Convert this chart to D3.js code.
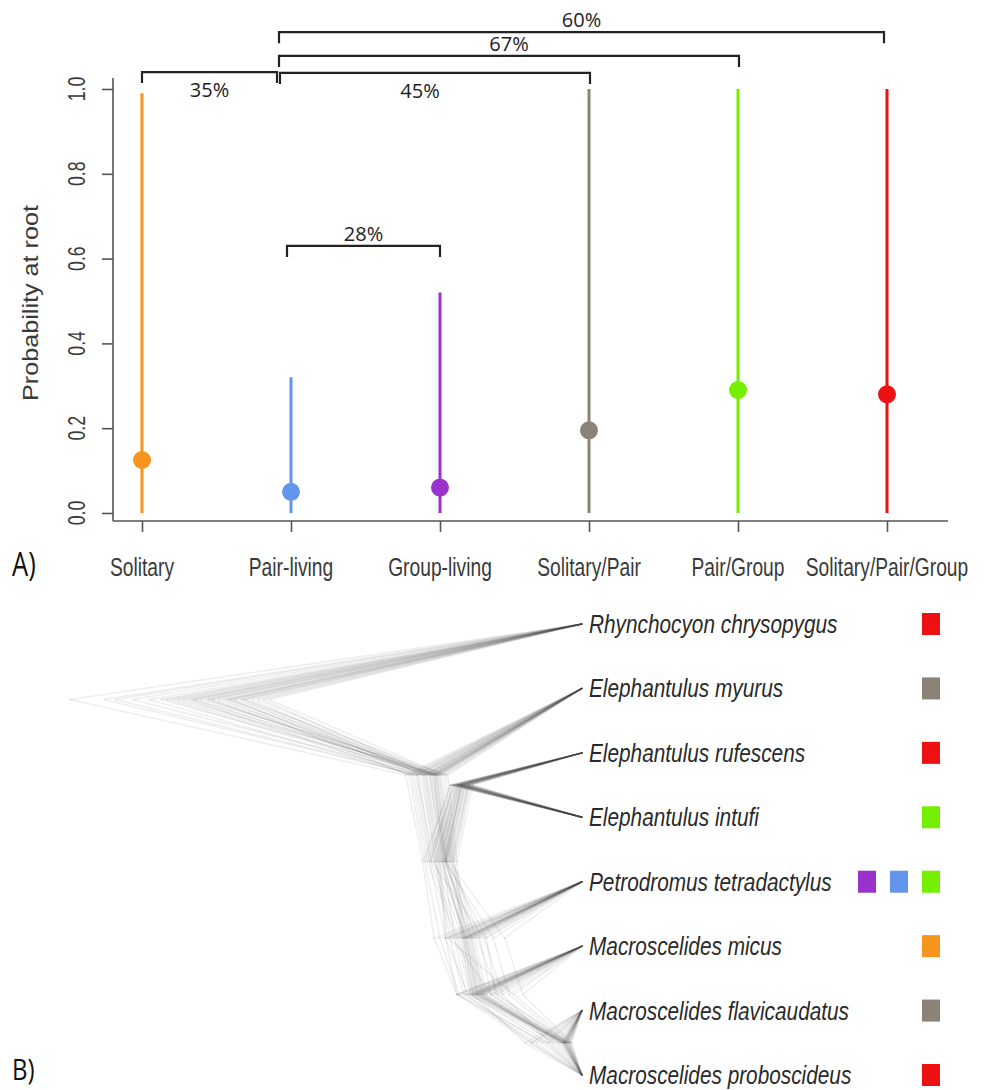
<!DOCTYPE html>
<html>
<head>
<meta charset="utf-8">
<script src="https://cdn.jsdelivr.net/npm/d3@7"></script>
<style>
  html, body { margin: 0; padding: 0; background: #fff; }
  svg { display: block; }
</style>
</head>
<body>
<svg id="chart" width="990" height="1090"></svg>
<script>
// ---------------- DATA ----------------
const categories = ["Solitary", "Pair-living", "Group-living", "Solitary/Pair", "Pair/Group", "Solitary/Pair/Group"];
const lowerValues = [0, 0, 0, 0, 0, 0];
const upperValues = [0.99, 0.32, 0.52, 1.0, 1.0, 1.0];
const pointValues = [0.125, 0.05, 0.06, 0.195, 0.29, 0.28];
const categoryColors = ["#F7941D", "#6495ED", "#9932CC", "#8B8378", "#76EE00", "#EE1111"];
const yTicks = [0, 0.2, 0.4, 0.6, 0.8, 1.0];
const yTickLabels = ["0.0", "0.2", "0.4", "0.6", "0.8", "1.0"];

const brackets = [
  { from: "Solitary",    to: "Pair-living",         label: "35%", level: 1.040 },
  { from: "Pair-living", to: "Solitary/Pair",       label: "45%", level: 1.038 },
  { from: "Pair-living", to: "Pair/Group",          label: "67%", level: 1.078 },
  { from: "Pair-living", to: "Solitary/Pair/Group", label: "60%", level: 1.134 },
  { from: "Pair-living", to: "Group-living",        label: "28%", level: 0.630 }
];

const species = ["Rhynchocyon chrysopygus", "Elephantulus myurus", "Elephantulus rufescens", "Elephantulus intufi",
                 "Petrodromus tetradactylus", "Macroscelides micus", "Macroscelides flavicaudatus", "Macroscelides proboscideus"];
const speciesStates = [
  ["Solitary/Pair/Group"],
  ["Solitary/Pair"],
  ["Solitary/Pair/Group"],
  ["Pair/Group"],
  ["Group-living", "Pair-living", "Pair/Group"],
  ["Solitary"],
  ["Solitary/Pair"],
  ["Solitary/Pair/Group"]
];

// topology: (R,(myurus,((rufescens,intufi),(Petrodromus,(micus,(flavicaudatus,proboscideus))))))
const topology = { id: "root", children: [
  { tip: 0 },
  { id: "my", children: [
    { tip: 1 },
    { id: "erpm", children: [
      { id: "ri", children: [{ tip: 2 }, { tip: 3 }] },
      { id: "pm", children: [
        { tip: 4 },
        { id: "mic", children: [
          { tip: 5 },
          { id: "fp", children: [{ tip: 6 }, { tip: 7 }] }
        ] }
      ] }
    ] }
  ] }
] };

// node depths (Myr before present) for each sampled tree
const nodeIds = ["root", "my", "erpm", "ri", "pm", "mic", "fp"];
const treeSamples = [
  [45.0, 15.5, 14.0, 11.5, 13.0, 11.0, 4.5],
  [41.0, 14.5, 13.0, 11.0, 10.5, 9.5, 1.6],
  [39.5, 13.8, 12.6, 10.8, 10.2, 9.2, 1.4],
  [38.0, 14.8, 13.4, 11.4, 12.0, 10.0, 2.2],
  [37.0, 13.0, 12.0, 10.6, 9.8, 8.8, 1.2],
  [36.0, 13.4, 12.2, 10.5, 10.4, 9.4, 1.5],
  [35.0, 12.8, 11.8, 10.2, 10.0, 9.0, 1.8],
  [34.5, 15.0, 13.6, 11.2, 11.0, 9.8, 3.0],
  [34.0, 13.2, 12.0, 10.6, 10.1, 9.1, 1.3],
  [33.0, 12.5, 11.5, 10.0, 9.6, 8.6, 1.1],
  [32.5, 13.6, 12.4, 10.9, 10.3, 9.3, 1.6],
  [32.0, 12.9, 11.9, 10.4, 9.9, 8.9, 1.4],
  [31.5, 15.2, 13.8, 11.6, 12.5, 10.8, 4.0],
  [31.0, 13.3, 12.1, 10.7, 9.2, 7.4, 1.2],
  [30.5, 12.6, 11.6, 10.1, 9.7, 8.7, 2.5],
  [30.0, 13.9, 12.7, 11.0, 11.4, 8.0, 1.7],
  [29.5, 13.1, 12.0, 10.5, 7.8, 6.4, 1.3],
  [29.0, 14.0, 12.9, 11.1, 11.6, 10.4, 3.5],
  [28.5, 12.7, 11.7, 10.3, 6.8, 5.2, 0.9],
  [28.0, 13.4, 12.3, 10.8, 10.2, 9.2, 1.5],
  [27.5, 12.2, 11.3, 9.9, 9.4, 8.4, 2.0],
  [36.5, 14.2, 12.8, 10.9, 11.8, 6.0, 1.0],
  [33.5, 11.8, 11.0, 9.6, 10.4, 9.6, 5.0],
  [30.8, 14.4, 13.2, 11.3, 8.6, 7.0, 2.8],
  [35.5, 12.4, 11.4, 10.0, 9.0, 8.0, 1.4],
  [32.8, 13.7, 12.5, 10.7, 12.0, 11.0, 3.2],
  [29.8, 12.0, 11.2, 9.8, 10.6, 9.8, 1.6],
  [42.0, 14.6, 13.3, 11.2, 10.8, 9.6, 1.8],
  [31.2, 13.0, 12.2, 10.6, 11.2, 10.2, 4.4],
  [34.2, 12.8, 11.9, 10.3, 8.4, 7.6, 1.1]
];

// ---------------- STYLE / LAYOUT ----------------
const bracketStyle = {
  "35%": { dxFrom: 0,   dxTo: -14, labelDx: 0,   below: true  },
  "45%": { dxFrom: -11, dxTo: 1,   labelDx: -15, below: true  },
  "67%": { dxFrom: -12, dxTo: 1,   labelDx: 0,   below: false },
  "60%": { dxFrom: -12, dxTo: -3,  labelDx: 0,   below: false },
  "28%": { dxFrom: -4,  dxTo: 0,   labelDx: 0,   below: false }
};

const svg = d3.select("#chart");
const colorOf = d3.scaleOrdinal().domain(categories).range(categoryColors);

// ---------------- PANEL A ----------------
const x = d3.scalePoint().domain(categories).range([142, 887]);
const y = d3.scaleLinear().domain([0, 1]).range([513, 89]);

const axisColor = "#555";
const textColor = "#3a3a3a";
const rFont = "'Liberation Sans', Arial, Helvetica, sans-serif";

// L-shaped frame
svg.append("line").attr("x1", 113).attr("x2", 113).attr("y1", 78).attr("y2", 521)
  .attr("stroke", axisColor).attr("stroke-width", 1.6);
svg.append("line").attr("x1", 113).attr("x2", 948).attr("y1", 521).attr("y2", 521)
  .attr("stroke", axisColor).attr("stroke-width", 1.6);

// y axis ticks via d3 axis
const yAxis = d3.axisLeft(y).tickValues(yTicks).tickSize(11).tickFormat("");
const gy = svg.append("g").attr("transform", "translate(113,0)").call(yAxis);
gy.select(".domain").remove();
gy.selectAll(".tick line").attr("stroke", axisColor).attr("stroke-width", 1.6);

svg.append("g").selectAll("text").data(yTicks).join("text")
  .attr("transform", (d) => `translate(85,${y(d)}) rotate(-90) scale(0.77,1)`)
  .attr("text-anchor", "middle")
  .attr("font-family", rFont).attr("font-size", 23).attr("fill", textColor)
  .text((d, i) => yTickLabels[i]);

svg.append("text")
  .attr("transform", `translate(38,${(y(0) + y(1)) / 2 + 2}) rotate(-90)`)
  .attr("text-anchor", "middle")
  .attr("font-family", rFont).attr("font-size", 22).attr("fill", textColor)
  .attr("textLength", 196).attr("lengthAdjust", "spacingAndGlyphs")
  .text("Probability at root");

// x axis ticks
const xAxis = d3.axisBottom(x).tickSize(11).tickFormat("");
const gx = svg.append("g").attr("transform", "translate(0,521)").call(xAxis);
gx.select(".domain").remove();
gx.selectAll(".tick line").attr("stroke", axisColor).attr("stroke-width", 1.6);

svg.append("g").selectAll("text").data(categories).join("text")
  .attr("transform", (d) => `translate(${x(d)},576) scale(0.74,1)`)
  .attr("text-anchor", "middle")
  .attr("font-family", rFont).attr("font-size", 26).attr("fill", textColor)
  .text((d) => d);

// interval lines + points
svg.append("g").selectAll("line").data(categories).join("line")
  .attr("x1", (d) => x(d)).attr("x2", (d) => x(d))
  .attr("y1", (d, i) => y(lowerValues[i])).attr("y2", (d, i) => y(upperValues[i]))
  .attr("stroke", (d) => colorOf(d)).attr("stroke-width", 3);

svg.append("g").selectAll("circle").data(categories).join("circle")
  .attr("cx", (d) => x(d)).attr("cy", (d, i) => y(pointValues[i]))
  .attr("r", 9).attr("fill", (d) => colorOf(d));

// brackets
const bg = svg.append("g");
brackets.forEach((b) => {
  const st = bracketStyle[b.label];
  const x1 = x(b.from) + st.dxFrom, x2 = x(b.to) + st.dxTo, yy = y(b.level);
  bg.append("path")
    .attr("d", `M${x1},${yy + 11}V${yy}H${x2}V${yy + 11}`)
    .attr("fill", "none").attr("stroke", "#222").attr("stroke-width", 2.2);
  bg.append("text")
    .attr("x", (x1 + x2) / 2 + st.labelDx)
    .attr("y", st.below ? yy + 25 : yy - 5)
    .attr("text-anchor", "middle")
    .attr("font-family", "'Open Sans', 'Noto Sans', sans-serif")
    .attr("font-size", 20).attr("fill", "#222")
    .text(b.label);
});

svg.append("text")
  .attr("transform", "translate(12,576) scale(0.8,1)")
  .attr("font-family", "'Open Sans', 'Noto Sans', sans-serif")
  .attr("font-size", 32).attr("fill", "#111").text("A)");

// ---------------- PANEL B ----------------
const tipY = d3.scaleLinear().domain([0, species.length - 1]).range([624, 1075]);
const depthX = d3.scaleLinear().domain([0, 45]).range([582, 70]);

const root = d3.hierarchy(topology);
const treeG = svg.append("g").attr("fill", "none")
  .attr("stroke", "#3a3a3a").attr("stroke-width", 1.5)
  .attr("stroke-linecap", "round").attr("stroke-opacity", 0.085);

treeSamples.forEach((ages) => {
  const depthOf = {};
  nodeIds.forEach((id, k) => { depthOf[id] = ages[k]; });
  const pos = new Map();
  root.eachAfter((n) => {
    if (n.data.tip !== undefined) {
      pos.set(n, { x: depthX(0), y: tipY(n.data.tip) });
    } else {
      pos.set(n, { x: depthX(depthOf[n.data.id]), y: d3.mean(n.children, (c) => pos.get(c).y) });
    }
  });
  root.links().forEach((l) => {
    const a = pos.get(l.source), b = pos.get(l.target);
    treeG.append("line").attr("x1", a.x).attr("y1", a.y).attr("x2", b.x).attr("y2", b.y);
  });
});

// species labels
svg.append("g").selectAll("text").data(species).join("text")
  .attr("transform", (d, i) => `translate(589,${tipY(i) + 9}) scale(0.8,1)`)
  .attr("font-family", rFont).attr("font-style", "italic")
  .attr("font-size", 26).attr("fill", "#2a2a2a")
  .text((d) => d);

// state squares (right-aligned)
const sq = svg.append("g");
speciesStates.forEach((states, i) => {
  states.forEach((s, k) => {
    const fromRight = states.length - 1 - k;
    sq.append("rect")
      .attr("x", 922 - fromRight * 32).attr("y", tipY(i) - 11)
      .attr("width", 18).attr("height", 22)
      .attr("fill", colorOf(s));
  });
});

svg.append("text")
  .attr("transform", "translate(12,1080) scale(0.8,1)")
  .attr("font-family", "'Open Sans', 'Noto Sans', sans-serif")
  .attr("font-size", 30).attr("fill", "#111").text("B)");
</script>
</body>
</html>
